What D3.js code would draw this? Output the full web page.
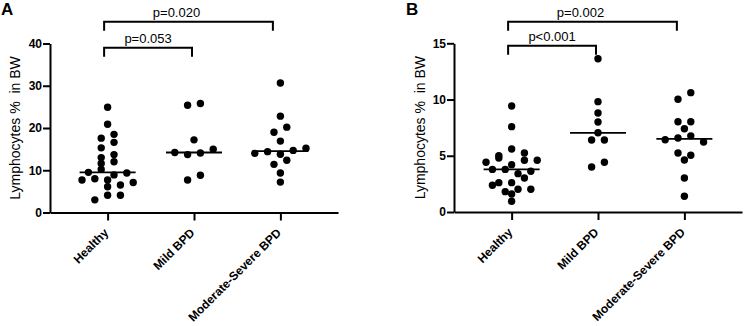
<!DOCTYPE html>
<html>
<head>
<meta charset="utf-8">
<script src="https://cdn.jsdelivr.net/npm/d3@7"></script>
<style>
  body { margin: 0; background: #fff; }
  svg { font-family: "Liberation Sans", Arial, sans-serif; }
</style>
</head>
<body>
<div id="chart"></div>
<script>
// Lymphocytes % in BW, by group
const groups = ["Healthy", "Mild BPD", "Moderate-Severe BPD"];

// panel A
const healthyA = [24.9, 20.9, 17.6, 18.5, 15.3, 16.6, 13.0, 13.7, 11.6, 12.0, 9.5, 10.2,
                  8.9, 9.35, 7.7, 8.0, 7.7, 6.5, 7.1, 6.1, 3.0, 4.1, 4.1];
const mildA = [25.4, 25.8, 17.2, 14.2, 13.7, 14.1, 15.0, 7.7, 8.8];
const modA = [30.65, 22.8, 19.0, 20.2, 16.9, 14.0, 14.4, 13.8, 14.7, 15.2, 11.4, 12.35, 9.35, 7.2];
const yTicksA = [0, 10, 20, 30, 40];
const pLabelsA = ["p=0.053", "p=0.020"];

// panel B
const healthyB = [9.42, 7.59, 5.01, 5.60, 5.25, 4.42, 4.80, 4.21, 4.60, 4.60, 3.79, 3.79,
                  3.41, 3.62, 2.61, 2.61, 3.02, 2.38, 1.81, 2.02, 2.02, 1.60, 0.96];
const mildB = [13.63, 9.81, 8.80, 8.00, 7.04, 6.40, 6.40, 4.00, 4.42];
const modB = [10.02, 10.61, 8.03, 8.03, 7.40, 6.43, 6.58, 6.77, 6.22, 5.25, 5.04, 4.62, 3.02, 1.40];
const yTicksB = [0, 5, 10, 15];
const pLabelsB = ["p<0.001", "p=0.002"];

const comparisons = [["Healthy", "Mild BPD"], ["Healthy", "Moderate-Severe BPD"]];
const yTitle = "Lymphocytes %  in BW";

// Setup
const width = 744;
const height = 326;
const dotR = 3.7;
const step = 12.8;   // horizontal spacing of dots in a row
const rowH = 7;      // dots closer than this vertically share a row

const svg = d3.select("#chart")
              .append("svg")
              .attr("width", width)
              .attr("height", height);

// simple row-based dot plot layout
function swarm(values, y) {
  const pts = values.map((v, i) => ({ v: v, i: i, y: y(v) }));
  const sorted = pts.slice().sort((a, b) => a.y - b.y || a.i - b.i);
  const rows = [];
  let cur = null;
  sorted.forEach(p => {
    if (!cur || p.y - cur[0].y >= rowH) { cur = [p]; rows.push(cur); }
    else cur.push(p);
  });
  rows.forEach(r => {
    r.sort((a, b) => a.i - b.i);
    r.forEach((p, k) => { p.dx = (k - (r.length - 1) / 2) * step; });
  });
  return pts;
}

function drawPanel(cfg) {
  const g = svg.append("g");

  const x = d3.scalePoint()
              .domain(groups)
              .range([cfg.left, cfg.right])
              .padding(0.667);

  const y = d3.scaleLinear()
              .domain([0, d3.max(cfg.ticks)])
              .range([cfg.bottom, cfg.top]);

  // y axis
  const yAxis = g.append("g")
     .attr("transform", `translate(${cfg.left},0)`)
     .call(d3.axisLeft(y).tickValues(cfg.ticks).tickSize(7).tickSizeOuter(0).tickPadding(1));
  yAxis.selectAll("path, line").attr("stroke", "#000").attr("stroke-width", 2);
  yAxis.selectAll("text")
       .attr("fill", "#000")
       .style("font-size", "12px")
       .style("font-weight", "bold");

  // x axis
  const xAxis = g.append("g")
     .attr("transform", `translate(0,${cfg.bottom})`)
     .call(d3.axisBottom(x).tickSize(8).tickSizeOuter(0));
  xAxis.selectAll("path, line").attr("stroke", "#000").attr("stroke-width", 2);
  xAxis.selectAll("text")
       .attr("fill", "#000")
       .attr("x", 0)
       .attr("y", 0)
       .attr("dy", null)
       .attr("text-anchor", "end")
       .attr("transform", "translate(1,21) rotate(-45)")
       .style("font-size", "12px")
       .style("font-weight", "bold");

  // axis title
  g.append("text")
   .attr("transform", `translate(${cfg.titleX},${(cfg.top + cfg.bottom) / 2}) rotate(-90)`)
   .attr("text-anchor", "middle")
   .style("font-size", "14px")
   .style("white-space", "pre")
   .text(yTitle);

  // panel letter
  g.append("text")
   .attr("x", cfg.letterX)
   .attr("y", 15)
   .style("font-size", "17px")
   .style("font-weight", "bold")
   .text(cfg.letter);

  // dots and medians
  cfg.series.forEach((vals, gi) => {
    const cx = x(groups[gi]);
    const pts = swarm(vals, y);
    g.append("g")
     .selectAll("circle")
     .data(pts)
     .enter().append("circle")
       .attr("cx", d => cx + d.dx)
       .attr("cy", d => d.y)
       .attr("r", dotR)
       .attr("fill", "#000");

    const med = d3.median(vals);
    g.append("line")
     .attr("x1", cx - 28)
     .attr("x2", cx + 28)
     .attr("y1", y(med))
     .attr("y2", y(med))
     .attr("stroke", "#000")
     .attr("stroke-width", 1.8);
  });

  // significance brackets
  const nudge = { "Healthy": -3.5, "Mild BPD": -2, "Moderate-Severe BPD": -7.5 };
  comparisons.forEach((c, k) => {
    const b = cfg.brackets[k];
    const x1 = x(c[0]) + nudge[c[0]];
    const x2 = x(c[1]) + nudge[c[1]];
    g.append("path")
     .attr("d", `M${x1},${b.y + 9}V${b.y}H${x2}V${b.y + 9}`)
     .attr("fill", "none")
     .attr("stroke", "#000")
     .attr("stroke-width", 2);
    g.append("text")
     .attr("x", (x1 + x2) / 2 + b.dx)
     .attr("y", b.y - 5)
     .attr("text-anchor", "middle")
     .style("font-size", "13px")
     .text(cfg.pLabels[k]);
  });
}

drawPanel({
  letter: "A", letterX: 1,
  left: 50, right: 338, top: 43.5, bottom: 212.5,
  titleX: 20,
  ticks: yTicksA,
  series: [healthyA, mildA, modA],
  pLabels: pLabelsA,
  brackets: [{ y: 47.7, dx: 0 }, { y: 21.7, dx: -12 }]
});

drawPanel({
  letter: "B", letterX: 406,
  left: 454, right: 742, top: 43.3, bottom: 212,
  titleX: 425,
  ticks: yTicksB,
  series: [healthyB, mildB, modB],
  pLabels: pLabelsB,
  brackets: [{ y: 45.7, dx: 0 }, { y: 21.7, dx: -12 }]
});
</script>
</body>
</html>
